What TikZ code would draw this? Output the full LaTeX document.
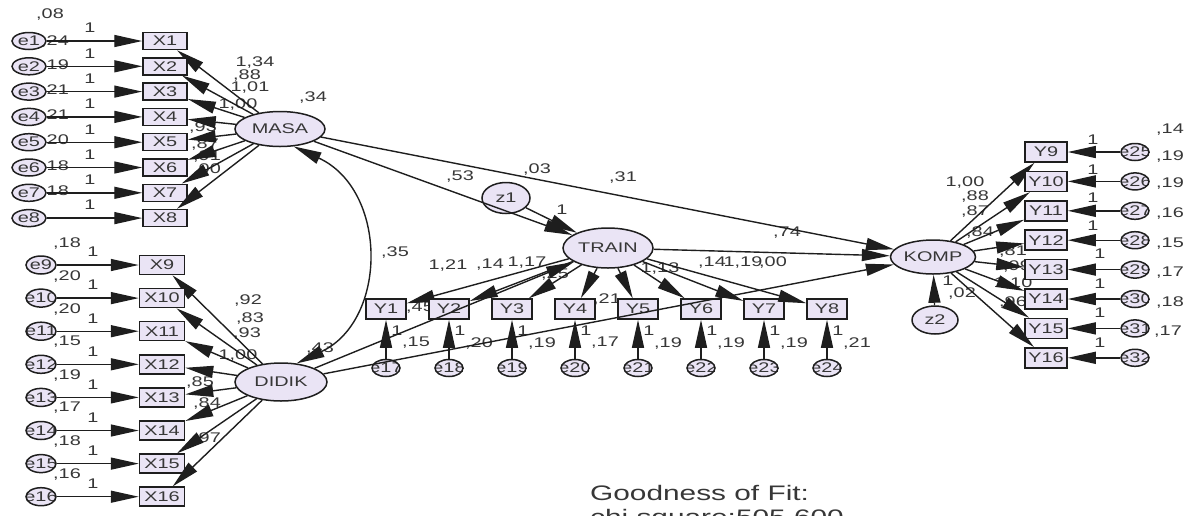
\documentclass[tikz,border=0pt]{standalone}
\usepackage{fontspec}
\setmainfont{Liberation Sans}[FakeStretch=1.42]
\usetikzlibrary{arrows.meta,shapes.geometric}
\pgfdeclarelayer{lab}
\pgfsetlayers{lab,main}

\definecolor{lav}{RGB}{234,228,245}
\definecolor{ink}{RGB}{30,30,30}
\definecolor{txt}{RGB}{55,55,55}

\tikzset{
  base/.style={draw=ink, line width=1.5pt, fill=lav, inner sep=0pt, text=txt,
    font=\fontsize{14}{14}\selectfont},
  lat/.style={base, ellipse},
  obs/.style={base, rectangle, minimum height=18pt},
  err/.style={base, ellipse, minimum width=32pt, minimum height=17pt},
  errc/.style={base, ellipse, minimum width=29pt, minimum height=17pt,
    path picture={\node[text=txt, font=\fontsize{14}{14}\selectfont]
      at (path picture bounding box.center) {#1};}},
  arr/.style={draw=ink, line width=1.4pt, -{Triangle[length=28pt,width=12pt]}},
  dbl/.style={draw=ink, line width=1.4pt,
    {Triangle[length=28pt,width=12pt]}-{Triangle[length=28pt,width=12pt]}},
  lbl/.style={inner sep=0pt, text=txt, font=\fontsize{14}{14}\selectfont},
  big/.style={inner sep=0pt, text=txt, font=\fontsize{21}{21}\selectfont, anchor=base west}
}

\begin{document}
\begin{tikzpicture}[x=1pt, y=-1pt]
\useasboundingbox (0,0) rectangle (1188,515);

% latent variables
\node[lat, minimum width=90pt, minimum height=35pt] (MASA)  at (280,129) {MASA};
\node[lat, minimum width=92pt, minimum height=38pt] (DIDIK) at (281,382) {DIDIK};
\node[lat, minimum width=90pt, minimum height=40pt] (TRAIN) at (608,248) {TRAIN};
\node[lat, minimum width=85pt, minimum height=34pt] (KOMP)  at (933,257) {KOMP};
\node[lat, minimum width=48pt, minimum height=31pt] (z1) at (506,198) {z1};
\node[lat, minimum width=46pt, minimum height=28pt] (z2) at (935,320) {z2};

% MASA indicators
\foreach \i in {1,...,8}{
  \pgfmathsetmacro\yy{41+25.3*(\i-1)}
  \node[obs, minimum width=44pt, minimum height=17pt] (X\i) at (165,\yy) {X\i};
  \node[err, minimum width=34pt] (e\i) at (29,\yy) {e\i};
  \draw[arr] (e\i) -- (X\i);
  \draw[arr] (MASA) -- (X\i);
  \begin{pgfonlayer}{lab}\node[lbl] at (90,\yy-13) {1};\end{pgfonlayer}
}

% DIDIK indicators
\foreach \i [count=\k from 0] in {9,...,16}{
  \pgfmathsetmacro\yy{265+33.1*\k}
  \node[obs, minimum width=45pt, minimum height=19pt] (X\i) at (162,\yy) {X\i};
  \node[errc={e\i}, minimum width=30pt, minimum height=18pt] (e\i) at (41,\yy) {};
  \draw[arr] (e\i) -- (X\i);
  \draw[arr] (DIDIK) -- (X\i);
  \begin{pgfonlayer}{lab}\node[lbl] at (93,\yy-13) {1};\end{pgfonlayer}
}

% TRAIN indicators
\foreach \i [count=\k from 0] in {1,...,8}{
  \pgfmathsetmacro\xx{386+63*\k}
  \pgfmathtruncatemacro\ee{16+\i}
  \node[obs, minimum width=40pt, minimum height=20pt] (Y\i) at (\xx,309) {Y\i};
  \node[errc={e\ee}, minimum width=28pt] (e\ee) at (\xx,368) {};
  \draw[arr] (e\ee) -- (Y\i);
  \draw[arr] (TRAIN) -- (Y\i);
  \begin{pgfonlayer}{lab}\node[lbl] at (\xx+11,331) {1};\end{pgfonlayer}
}

% KOMP indicators
\foreach \i [count=\k from 0] in {9,...,16}{
  \pgfmathsetmacro\yy{152+29.4*\k}
  \pgfmathtruncatemacro\ee{16+\i}
  \node[obs, minimum width=42pt, minimum height=20pt] (Y\i) at (1046,\yy) {Y\i};
  \node[errc={e\ee}, minimum width=28pt] (e\ee) at (1135,\yy) {};
  \draw[arr] (e\ee) -- (Y\i);
  \draw[arr] (KOMP) -- (Y\i);
}

% structural paths
\draw[dbl] (MASA.-52) .. controls (388,190) and (388,320) .. (DIDIK.50);
\draw[arr] (MASA) -- (TRAIN);
\draw[arr] (MASA) -- (KOMP);
\draw[arr] (z1) -- (TRAIN);
\draw[arr] (DIDIK) -- (TRAIN);
\draw[arr] (DIDIK) -- (KOMP);
\draw[arr] (TRAIN) -- (KOMP);
\draw[arr] (z2) -- (KOMP);

\begin{pgfonlayer}{lab}
% error variances, MASA block
\node[lbl] at (50,15) {,08};
\node[lbl] at (55,42) {,24};
\node[lbl] at (55,66) {,19};
\node[lbl] at (55,91) {,21};
\node[lbl] at (55,116) {,21};
\node[lbl] at (55,141) {,20};
\node[lbl] at (55,167) {,18};
\node[lbl] at (55,192) {,18};
% loadings MASA
\node[lbl] at (255,63) {1,34};
\node[lbl] at (247,76) {,88};
\node[lbl] at (250,88) {1,01};
\node[lbl] at (238,105) {1,00};
\node[lbl] at (203,128) {,93};
\node[lbl] at (205,145) {,87};
\node[lbl] at (207,157) {,91};
\node[lbl] at (207,170) {,00};
\node[lbl] at (313,98) {,34};
% error variances, DIDIK block
\node[lbl] at (67,243) {,18};
\node[lbl] at (67,276) {,20};
\node[lbl] at (67,309) {,20};
\node[lbl] at (67,342) {,15};
\node[lbl] at (67,375) {,19};
\node[lbl] at (67,408) {,17};
\node[lbl] at (67,441) {,18};
\node[lbl] at (67,474) {,16};
% loadings DIDIK
\node[lbl] at (248,300) {,92};
\node[lbl] at (250,318) {,83};
\node[lbl] at (247,333) {,93};
\node[lbl] at (238,355) {1,00};
\node[lbl] at (200,382) {,85};
\node[lbl] at (207,403) {,84};
\node[lbl] at (207,438) {,97};
\node[lbl] at (320,348) {,43};
% structural estimates
\node[lbl] at (395,253) {,35};
\node[lbl] at (460,177) {,53};
\node[lbl] at (537,170) {,03};
\node[lbl] at (623,178) {,31};
\node[lbl] at (562,210) {1};
\node[lbl] at (787,233) {,74};
\node[lbl] at (420,308) {,45};
\node[lbl] at (607,299) {,21};
% loadings TRAIN
\node[lbl] at (448,265) {1,21};
\node[lbl] at (490,265) {,14};
\node[lbl] at (527,263) {1,17};
\node[lbl] at (555,275) {,25};
\node[lbl] at (660,268) {1,13};
\node[lbl] at (712,263) {,14};
\node[lbl] at (743,263) {1,19};
\node[lbl] at (773,263) {,00};
% error variances, TRAIN block
\node[lbl] at (416,343) {,15};
\node[lbl] at (479,343) {,20};
\node[lbl] at (542,343) {,19};
\node[lbl] at (605,343) {,17};
\node[lbl] at (668,343) {,19};
\node[lbl] at (731,343) {,19};
\node[lbl] at (794,343) {,19};
\node[lbl] at (857,343) {,21};
% KOMP block
\node[lbl] at (965,183) {1,00};
\node[lbl] at (975,197) {,88};
\node[lbl] at (975,212) {,87};
\node[lbl] at (980,232) {,84};
\node[lbl] at (1013,252) {,81};
\node[lbl] at (1017,267) {,99};
\node[lbl] at (1013,283) {1,10};
\node[lbl] at (1013,302) {,96};
\node[lbl] at (948,281) {1};
\node[lbl] at (962,293) {,02};
\node[lbl] at (1093,140) {1};
\node[lbl] at (1093,170) {1};
\node[lbl] at (1093,198) {1};
\node[lbl] at (1093,226) {1};
\node[lbl] at (1100,254) {1};
\node[lbl] at (1100,284) {1};
\node[lbl] at (1100,313) {1};
\node[lbl] at (1100,343) {1};
\node[lbl] at (1170,130) {,14};
\node[lbl] at (1170,157) {,19};
\node[lbl] at (1170,184) {,19};
\node[lbl] at (1170,214) {,16};
\node[lbl] at (1170,244) {,15};
\node[lbl] at (1170,273) {,17};
\node[lbl] at (1170,302) {,18};
\node[lbl] at (1168,332) {,17};
\end{pgfonlayer}

% fit summary
\node[big] (gof) at (590,500) {Goodness of Fit:};
\node[big] (chi) at (590,524) {chi square:505,600};
\end{tikzpicture}
\end{document}
